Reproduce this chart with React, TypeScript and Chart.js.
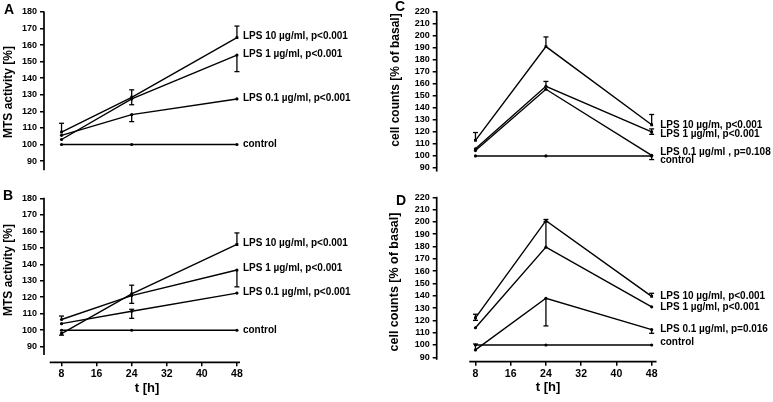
import React, { useEffect, useRef } from "react";
import { Chart, registerables } from "chart.js";
Chart.register(...registerables);

// ---------- data ----------
const hours = [8, 24, 48];
const xTickValues = [8, 16, 24, 32, 40, 48];
const mtsTicks = [90, 100, 110, 120, 130, 140, 150, 160, 170, 180];
const cellTicks = [90, 100, 110, 120, 130, 140, 150, 160, 170, 180, 190, 200, 210, 220];

// Panel A (MTS activity)
const aControl = [100, 100, 100];
const aLps10 = [107.5, 128.5, 164.5];
const aLps1 = [103, 127.5, 154];
const aLps01 = [105.5, 118, 127.5];
const aLps10Err = [[107.5, 112.8], [128.5, 133], [164.5, 171.5]];
const aLps1Err = [null, [124, 127.5], [144, 154]];
const aLps01Err = [null, [113.8, 118], null];
const aLabels = ["LPS 10 µg/ml, p<0.001", "LPS 1 µg/ml, p<0.001", "LPS 0.1 µg/ml, p<0.001", "control"];

// Panel B (MTS activity)
const bControl = [100, 100, 100];
const bLps10 = [98, 122, 152];
const bLps1 = [106.5, 121, 136.5];
const bLps01 = [104, 111.5, 122.5];
const bLps10Err = [[97, 98], [122, 127.3], [152, 159]];
const bLps1Err = [[106.5, 108.6], [116.3, 121], [126.3, 136.5]];
const bLps01Err = [null, [107.2, 112.7], null];
const bLabels = ["LPS 10 µg/ml, p<0.001", "LPS 1 µg/ml, p<0.001", "LPS 0.1 µg/ml, p<0.001", "control"];

// Panel C (cell counts)
const cControl = [100, 100, 100];
const cLps10 = [113, 191, 126];
const cLps1 = [106, 158, 120];
const cLps01 = [104.5, 155.5, 100.5];
const cLps10Err = [[113, 119.5], [191, 199], [126, 134.5]];
const cLps1Err = [null, [158, 162], [118, 122.5]];
const cLps01Err = [null, null, [97, 100.5]];
const cLabels = ["LPS 10 µg/m, p<0.001", "LPS 1 µg/ml, p<0.001", "LPS 0.1 µg/ml , p=0.108", "control"];

// Panel D (cell counts)
const dControl = [100, 100, 100];
const dLps10 = [122, 201, 139.5];
const dLps1 = [114, 179.5, 131];
const dLps01 = [96, 138, 112.5];
const dLps10Err = [[120, 125], [201, 202], [139.5, 142]];
const dLps1Err = [null, [179.5, 200], null];
const dLps01Err = [[96, 100.8], [115.5, 138], [109.5, 112.5]];
const dLabels = ["LPS 10 µg/ml, p<0.001", "LPS 1 µg/ml, p<0.001", "LPS 0.1 µg/ml, p=0.016", "control"];

const FONT = "'Liberation Sans', Arial, Helvetica, sans-serif";

type Err = (number[] | null)[];
interface Panel {
  left: number; top: number; width: number; height: number;
  chartLeft: number; chartTop: number; chartRight: number; chartBottom: number;
  xMin: number; xMax: number; yMin: number; yMax: number;
  yAxisFrom: number; yAxisTo: number; xAxisFrom: number; xAxisTo: number;
  showX: boolean; yTicks: number[];
  series: number[][]; errs: Err[]; labels: string[];
  letter: string; letterX: number; letterY: number;
  yTitle: string; yTitleX: number; yTitleY: number; yTitleSize: number;
  labelDx: number; labelDy: number[];
  xTitleX: number; xTitleY: number;
}

const panels: Panel[] = [
  {
    left: 0, top: 0, width: 386, height: 180,
    chartLeft: 44, chartTop: 12, chartRight: 240, chartBottom: 170.15,
    xMin: 4, xMax: 48.7, yMin: 84.5, yMax: 180,
    yAxisFrom: 84.5, yAxisTo: 180, xAxisFrom: 5.3, xAxisTo: 48.7,
    showX: false, yTicks: mtsTicks,
    series: [aLps10, aLps1, aLps01, aControl], errs: [aLps10Err, aLps1Err, aLps01Err, []], labels: aLabels,
    letter: "A", letterX: 4, letterY: 10,
    yTitle: "MTS activity [%]", yTitleX: 9, yTitleY: 92, yTitleSize: 12,
    labelDx: 6, labelDy: [-1, -1, -1, -0.5],
    xTitleX: 0, xTitleY: 0,
  },
  {
    left: 0, top: 180, width: 386, height: 222,
    chartLeft: 44, chartTop: 18.3, chartRight: 240, chartBottom: 182.3,
    xMin: 4, xMax: 48.7, yMin: 80.55, yMax: 180,
    yAxisFrom: 85, yAxisTo: 180, xAxisFrom: 5.3, xAxisTo: 48.7,
    showX: true, yTicks: mtsTicks,
    series: [bLps10, bLps1, bLps01, bControl], errs: [bLps10Err, bLps1Err, bLps01Err, []], labels: bLabels,
    letter: "B", letterX: 3, letterY: 16,
    yTitle: "MTS activity [%]", yTitleX: 9, yTitleY: 90, yTitleSize: 12,
    labelDx: 6, labelDy: [-1.5, -1.5, -1, 0],
    xTitleX: 147, xTitleY: 208,
  },
  {
    left: 386, top: 0, width: 387, height: 180,
    chartLeft: 50.7, chartTop: 11.7, chartRight: 270.5, chartBottom: 171.9,
    xMin: -0.8, xMax: 49.1, yMin: 87, yMax: 220,
    yAxisFrom: 87, yAxisTo: 220, xAxisFrom: 6.6, xAxisTo: 49.1,
    showX: false, yTicks: cellTicks,
    series: [cLps10, cLps1, cLps01, cControl], errs: [cLps10Err, cLps1Err, cLps01Err, []], labels: cLabels,
    letter: "C", letterX: 9, letterY: 7,
    yTitle: "cell counts [% of basal]", yTitleX: 10, yTitleY: 80, yTitleSize: 12,
    labelDx: 8.5, labelDy: [0.5, 2.5, -3.5, 4.5],
    xTitleX: 0, xTitleY: 0,
  },
  {
    left: 386, top: 180, width: 387, height: 222,
    chartLeft: 50.7, chartTop: 17.3, chartRight: 270.5, chartBottom: 181.7,
    xMin: -0.8, xMax: 49.1, yMin: 86.43, yMax: 220,
    yAxisFrom: 88, yAxisTo: 220, xAxisFrom: 6.6, xAxisTo: 49.1,
    showX: true, yTicks: cellTicks,
    series: [dLps10, dLps1, dLps01, dControl], errs: [dLps10Err, dLps1Err, dLps01Err, []], labels: dLabels,
    letter: "D", letterX: 10, letterY: 21,
    yTitle: "cell counts [% of basal]", yTitleX: 9, yTitleY: 102, yTitleSize: 12.5,
    labelDx: 8.5, labelDy: [0, 0.4, 0, -2.5],
    xTitleX: 162, xTitleY: 207,
  },
];

function makePlugin(p: Panel) {
  return {
    id: "panelDecor" + p.letter,
    afterDatasetsDraw(chart: any) {
      const ctx = chart.ctx as CanvasRenderingContext2D;
      const xs = chart.scales.x;
      const ys = chart.scales.y;
      const area = chart.chartArea;
      ctx.save();
      ctx.strokeStyle = "#000";
      ctx.fillStyle = "#000";
      // axes
      ctx.lineWidth = 1.7;
      ctx.beginPath();
      ctx.moveTo(area.left, ys.getPixelForValue(p.yAxisTo) - 0.5);
      ctx.lineTo(area.left, ys.getPixelForValue(p.yAxisFrom));
      ctx.stroke();
      if (p.showX) {
        ctx.beginPath();
        ctx.moveTo(xs.getPixelForValue(p.xAxisFrom), area.bottom);
        ctx.lineTo(xs.getPixelForValue(p.xAxisTo), area.bottom);
        ctx.stroke();
      }
      // error bars
      ctx.lineWidth = 1.3;
      p.errs.forEach((errArr, si) => {
        errArr.forEach((e, j) => {
          if (!e) return;
          const x = xs.getPixelForValue(hours[j]);
          const v = p.series[si][j];
          const y1 = ys.getPixelForValue(e[0]);
          const y2 = ys.getPixelForValue(e[1]);
          ctx.beginPath();
          ctx.moveTo(x, y1);
          ctx.lineTo(x, y2);
          ctx.stroke();
          [e[0], e[1]].forEach((ev) => {
            if (Math.abs(ev - v) < 0.01) return;
            const yy = ys.getPixelForValue(ev);
            ctx.beginPath();
            ctx.moveTo(x - 2.5, yy);
            ctx.lineTo(x + 2.5, yy);
            ctx.stroke();
          });
        });
      });
      // series labels
      ctx.font = `bold 10px ${FONT}`;
      ctx.textAlign = "left";
      ctx.textBaseline = "middle";
      const lastX = xs.getPixelForValue(hours[hours.length - 1]);
      p.labels.forEach((lab, i) => {
        const s = p.series[i];
        const y = ys.getPixelForValue(s[s.length - 1]) + p.labelDy[i];
        ctx.fillText(lab, lastX + p.labelDx, y);
      });
      // panel letter
      ctx.font = `bold 14px ${FONT}`;
      ctx.fillText(p.letter, p.letterX, p.letterY);
      // y title
      ctx.save();
      ctx.translate(p.yTitleX, p.yTitleY);
      ctx.rotate(-Math.PI / 2);
      ctx.textAlign = "center";
      ctx.font = `bold ${p.yTitleSize}px ${FONT}`;
      ctx.fillText(p.yTitle, 0, 0);
      ctx.restore();
      // x title
      if (p.showX) {
        ctx.textAlign = "center";
        ctx.font = `bold 13px ${FONT}`;
        ctx.fillText("t [h]", p.xTitleX, p.xTitleY);
      }
      ctx.restore();
    },
  };
}

function PanelChart({ p }: { p: Panel }) {
  const ref = useRef<HTMLCanvasElement | null>(null);
  useEffect(() => {
    if (!ref.current) return;
    const mk = (data: number[], rect: boolean) => ({
      data: data.map((v, i) => ({ x: hours[i], y: v })),
      borderColor: "#000",
      backgroundColor: "#000",
      borderWidth: 1.4,
      pointRadius: rect ? 2 : 1.6,
      pointStyle: rect ? "rect" : "circle",
      pointBackgroundColor: "#000",
      pointBorderColor: "#000",
      pointBorderWidth: 0,
      tension: 0,
      fill: false,
    });
    const chart = new Chart(ref.current, {
      type: "line",
      data: {
        datasets: [mk(p.series[0], true), mk(p.series[1], false), mk(p.series[2], false), mk(p.series[3], false)] as any,
      },
      options: {
        responsive: false,
        animation: false,
        devicePixelRatio: 1,
        layout: {
          padding: {
            left: 0,
            top: p.chartTop,
            right: p.width - p.chartRight,
            bottom: 0,
          },
        },
        plugins: { legend: { display: false }, tooltip: { enabled: false } },
        scales: {
          x: {
            type: "linear",
            min: p.xMin,
            max: p.xMax,
            display: p.showX,
            afterFit: (s: any) => { s.height = p.height - p.chartBottom; },
            afterBuildTicks: (s: any) => { s.ticks = xTickValues.map((v) => ({ value: v })); },
            grid: { display: true, drawOnChartArea: false, drawTicks: true, tickLength: 4, color: "#000", lineWidth: 1.5 },
            border: { display: false },
            ticks: {
              color: "#000",
              padding: 2,
              maxRotation: 0,
              autoSkip: false,
              font: { family: FONT, size: 10.5, weight: "bold" },
            },
          },
          y: {
            type: "linear",
            min: p.yMin,
            max: p.yMax,
            afterFit: (s: any) => { s.width = p.chartLeft; },
            afterBuildTicks: (s: any) => { s.ticks = p.yTicks.map((v) => ({ value: v })); },
            grid: { display: true, drawOnChartArea: false, drawTicks: true, tickLength: 4, color: "#000", lineWidth: 1.5 },
            border: { display: false },
            ticks: {
              color: "#000",
              padding: 3,
              autoSkip: false,
              font: { family: FONT, size: 9, weight: "bold" },
            },
          },
        },
      } as any,
      plugins: [makePlugin(p)],
    });
    return () => chart.destroy();
  }, [p]);
  return (
    <canvas
      ref={ref}
      width={p.width}
      height={p.height}
      style={{ position: "absolute", left: p.left, top: p.top, width: p.width, height: p.height }}
    />
  );
}

export default function App() {
  return (
    <div style={{ position: "absolute", left: 0, top: 0, width: 773, height: 402, background: "#fff", overflow: "hidden" }}>
      {panels.map((p) => (
        <PanelChart key={p.letter} p={p} />
      ))}
    </div>
  );
}
